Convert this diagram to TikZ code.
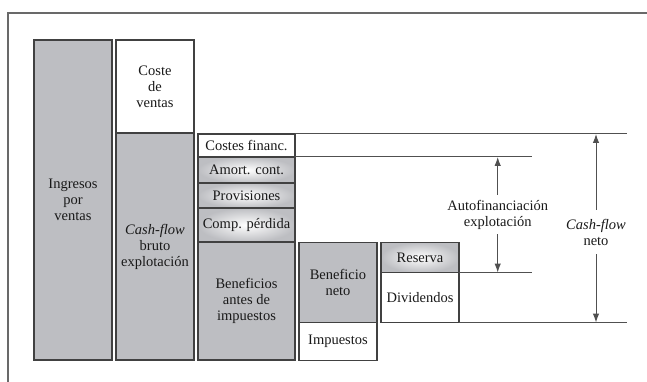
\documentclass[tikz,border=0pt]{standalone}
\usepackage{fontspec}
\setmainfont{Liberation Serif}
\usetikzlibrary{positioning, arrows.meta}

\definecolor{boxgray}{RGB}{189,190,194}
\definecolor{linegray}{RGB}{65,65,65}
\definecolor{rulegray}{RGB}{80,80,80}
\definecolor{framegray}{RGB}{105,105,105}

\tikzset{
  box/.style={draw=linegray, line width=1.4pt, inner sep=0pt, outer sep=0pt,
    align=center, minimum width=78pt, text=black!90},
  greybox/.style={box, fill=boxgray},
  whitebox/.style={box, fill=white},
  glossy/.style={box, inner color=white, outer color=boxgray},
  rule/.style={draw=rulegray, line width=1pt},
  arr/.style={rule, -{Latex[length=9pt,width=6.5pt]}},
  lab/.style={align=center, text=black!90, inner xsep=0pt}
}

\begin{document}
\begin{tikzpicture}[x=1pt, y=-1pt, font=\fontsize{14.5}{16}\selectfont]
    \useasboundingbox (0,0) rectangle (647,382);
    % frame
    \draw[framegray, line width=2pt] (8,382) -- (8,13.5) -- (647,13.5);

    % columns
    \node[greybox, anchor=north west, minimum height=320pt] (ing) at (34,40) {Ingresos\\por\\ventas};
    \node[whitebox, anchor=north west, minimum height=93pt] (cv) at (116,40) {Coste\\de\\ventas};
    \node[greybox, minimum height=227pt] (cfb) [below=0pt of cv] {\textit{Cash-flow}\\bruto\\explotación};

    \node[whitebox, anchor=north west, minimum width=97pt, minimum height=23pt] (fin) at (198,134) {Costes financ.};
    \node[glossy, minimum width=97pt, minimum height=26pt] (amo) [below=0pt of fin] {Amort. cont.};
    \node[glossy, minimum width=97pt, minimum height=25pt] (prov) [below=0pt of amo] {Provisiones};
    \node[glossy, minimum width=97pt, minimum height=34pt] (comp) [below=0pt of prov] {Comp. pérdida};
    \node[greybox, minimum width=97pt, minimum height=118pt] (bai) [below=0pt of comp] {Beneficios\\antes de\\impuestos};

    \node[greybox, anchor=north west, minimum height=80pt] (bn) at (299,242.5) {Beneficio\\neto};
    \node[whitebox, minimum height=38pt] (imp) [below=0pt of bn] {Impuestos};

    \node[glossy, anchor=north west, minimum height=30pt] (res) at (381,242.5) {Reserva};
    \node[whitebox, minimum height=50pt] (div) [below=0pt of res] {Dividendos};

    % rules
    \coordinate (cfend) at (627,133.5);
    \coordinate (afend) at (532,157.5);
    \draw[rule] (fin.north east) -- (fin.north east -| cfend);
    \draw[rule] (fin.south east) -- (fin.south east -| afend);
    \draw[rule] (res.south east) -- (res.south east -| afend);
    \draw[rule] (div.south east) -- (div.south east -| cfend);

    % labels and arrows
    \node[lab, inner ysep=5pt] (auto) at (497.7,214.5) {Autofinanciación\\explotación};
    \node[lab, inner ysep=9pt] (cfn) at (596,232) {\textit{Cash-flow}\\neto};
    \draw[arr] (auto.north) -- (auto.north |- fin.south);
    \draw[arr] (auto.south) -- (auto.south |- res.south);
    \draw[arr] (cfn.north) -- (cfn.north |- fin.north);
    \draw[arr] (cfn.south) -- (cfn.south |- div.south);
\end{tikzpicture}
\end{document}
